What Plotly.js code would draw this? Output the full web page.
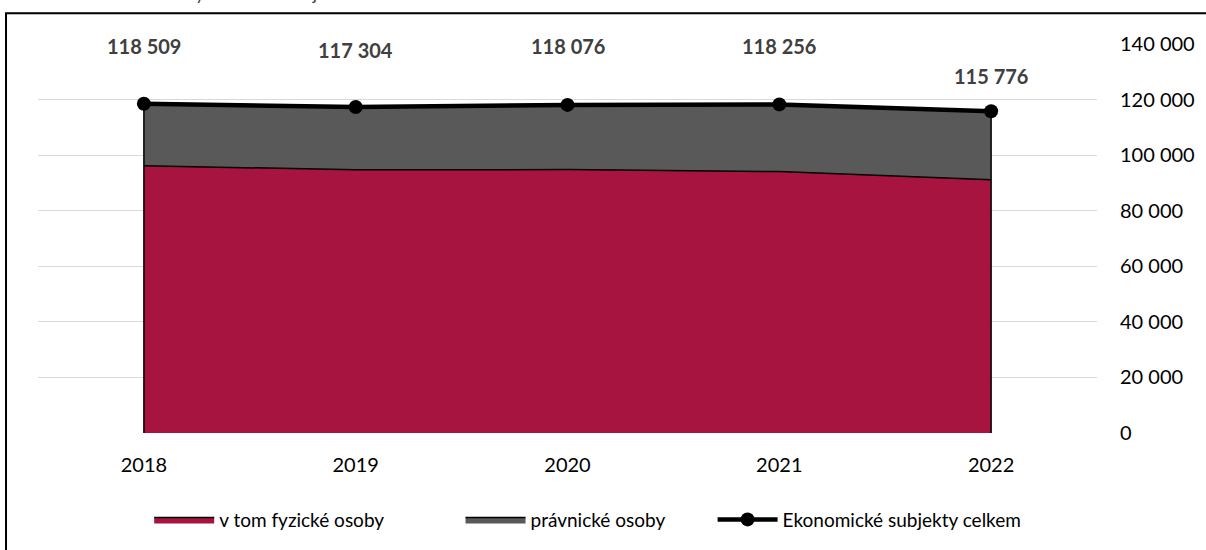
<!DOCTYPE html>
<html>
<head>
<meta charset="utf-8">
<script src="https://cdn.plot.ly/plotly-3.0.1.min.js"></script>
<style>html,body{margin:0;padding:0;background:#fff;}#chart{width:1206px;height:550px;}</style>
</head>
<body>
<div id="chart"></div>
<script>
const years = ['2018', '2019', '2020', '2021', '2022'];
const fyzickeOsoby = [96200, 94700, 94800, 94100, 91100];
const celkem = [118509, 117304, 118076, 118256, 115776];
const pravnickeOsoby = celkem.map((v, i) => v - fyzickeOsoby[i]);
const seriesNames = ['v tom fyzické osoby', 'právnické osoby', 'Ekonomické subjekty celkem'];
const yTicks = [0, 20000, 40000, 60000, 80000, 100000, 120000, 140000];

// styling: vertical pixel offset of each data label above its point
const labelShift = [58, 57, 59, 58, 35];

const FONT = 'Lato, "Open Sans", sans-serif';
const fmt = v => String(v).replace(/\B(?=(\d{3})+(?!\d))/g, ' ');

const traces = [
  {
    x: years, y: fyzickeOsoby, name: seriesNames[0], type: 'scatter', mode: 'lines',
    stackgroup: 'a', fillcolor: '#A6143F', line: {color: '#000', width: 1.5},
    hoverinfo: 'skip', legend: 'legend'
  },
  {
    x: years, y: pravnickeOsoby, name: seriesNames[1], type: 'scatter', mode: 'lines',
    stackgroup: 'a', fillcolor: '#595959', line: {color: '#000', width: 1.5},
    hoverinfo: 'skip', legend: 'legend2'
  },
  {
    x: [years[0], years[0]], y: [0, celkem[0]], type: 'scatter', mode: 'lines',
    line: {color: '#000', width: 1.5}, showlegend: false, hoverinfo: 'skip'
  },
  {
    x: [years[years.length - 1], years[years.length - 1]], y: [0, celkem[celkem.length - 1]],
    type: 'scatter', mode: 'lines', line: {color: '#000', width: 1.5},
    showlegend: false, hoverinfo: 'skip'
  },
  {
    x: years, y: celkem, name: seriesNames[2], type: 'scatter', mode: 'lines+markers',
    line: {color: '#000', width: 4.5}, marker: {color: '#000', size: 14},
    hoverinfo: 'skip', legend: 'legend3'
  }
];

const annotations = years.map((yr, i) => ({
  x: i, y: celkem[i], xref: 'x', yref: 'y', text: '<b>' + fmt(celkem[i]) + '</b>',
  showarrow: false, yshift: labelShift[i], font: {family: FONT, size: 20, color: '#404040'}
}));
annotations.push({
  xref: 'paper', yref: 'paper', x: -0.036, xanchor: 'left', y: 1.0985, yanchor: 'bottom',
  text: 'Graf 7: Počet ekonomicky aktivních subjektů', showarrow: false,
  font: {family: FONT, size: 18, color: '#404040'}
});

const legendBase = {
  orientation: 'h', xanchor: 'left', y: -0.2225, yanchor: 'middle',
  font: {family: FONT, size: 19, color: '#000'}, itemwidth: 60,
  bgcolor: 'rgba(0,0,0,0)'
};

const layout = {
  width: 1206, height: 550,
  margin: {l: 38, r: 109, t: 44, b: 115},
  paper_bgcolor: '#fff', plot_bgcolor: '#fff',
  separators: ', ',
  font: {family: FONT, size: 19, color: '#000'},
  showlegend: true,
  legend: Object.assign({}, legendBase, {x: 0.105}),
  legend2: Object.assign({}, legendBase, {x: 0.399}),
  legend3: Object.assign({}, legendBase, {x: 0.637}),
  xaxis: {
    type: 'category', range: [-0.5, 4.5], showgrid: false, zeroline: false,
    showline: false, ticks: '', ticklabelstandoff: 18,
    tickfont: {family: FONT, size: 20, color: '#000'}, fixedrange: true
  },
  yaxis: {
    side: 'right', range: [0, 140000], tickvals: yTicks, ticktext: yTicks.map(fmt),
    showgrid: true, gridcolor: '#d9d9d9', gridwidth: 1.2, zeroline: false,
    showline: false, ticks: '', ticklabelstandoff: 22,
    tickfont: {family: FONT, size: 20, color: '#000'}, fixedrange: true
  },
  shapes: [{
    type: 'rect', xref: 'paper', yref: 'paper',
    x0: -0.0302, x1: 1.2, y0: -0.33, y1: 1.0793,
    line: {color: '#000', width: 2}, fillcolor: 'rgba(0,0,0,0)', layer: 'below'
  }],
  annotations: annotations
};

Plotly.newPlot('chart', traces, layout, {displayModeBar: false, staticPlot: true});
</script>
</body>
</html>
